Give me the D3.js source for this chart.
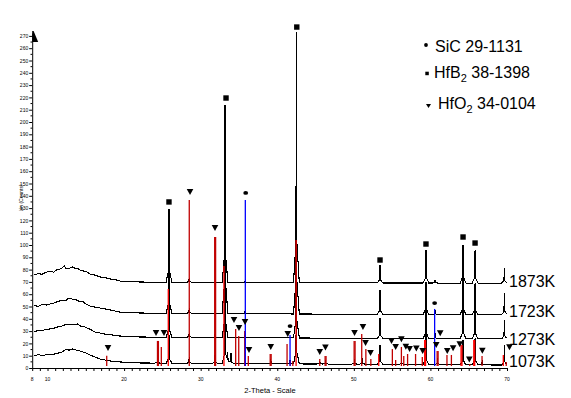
<!DOCTYPE html>
<html><head><meta charset="utf-8">
<script src="https://cdn.jsdelivr.net/npm/d3@7"></script>
<style>body{margin:0;background:#fff}svg{display:block;font-family:Arial,"Liberation Sans",sans-serif}</style>
</head><body><svg id="c" width="571" height="398"></svg>
<script>
// ---------- DATA (2-Theta in degrees, intensity in Lin counts) ----------
const xTickValues = [8,10,20,30,40,50,60,70];
const xMinorTicks = [8,9,10,11,12,13,14,15,16,17,18,19,20,21,22,23,24,25,26,27,28,29,30,31,32,33,34,35,36,37,38,39,40,41,42,43,44,45,46,47,48,49,50,51,52,53,54,55,56,57,58,59,60,61,62,63,64,65,66,67,68,69,70];
const yTickValues = [0,10,20,30,40,50,60,70,80,90,100,110,120,130,140,150,160,170,180,190,200,210,220,230,240,250,260,270];
const traceNames = ["1873K","1723K","1273K","1073K"];

const baseline1873 = [[8.24,75.6],[8.8,76.8],[9.28,76.2],[9.9,78.0],[10.32,78.9],[10.8,77.8],[11.11,79.5],[11.5,80.2],[11.89,81.3],[12.2,83.0],[12.41,80.5],[12.94,81.3],[13.3,82.2],[13.59,81.0],[14.0,80.6],[14.24,79.7],[14.89,78.5],[15.2,77.9],[15.55,76.4],[16.20,75.5],[16.85,74.0],[17.50,73.5],[18.16,72.4],[18.8,71.9],[19.46,70.7],[22.08,69.9],[29.91,69.5],[42.97,69.3],[56.03,69.1],[69.95,69.0]];
const baseline1723 = [[8.24,50.7],[8.8,50.2],[9.28,51.5],[9.9,51.2],[10.32,52.0],[10.8,52.8],[11.11,53.5],[11.5,54.2],[11.89,55.3],[12.2,54.6],[12.41,55.0],[12.8,57.0],[13.20,56.1],[13.72,55.5],[14.24,53.7],[14.6,54.2],[14.89,52.5],[15.55,50.4],[16.20,49.5],[16.85,48.8],[18.16,47.2],[19.46,45.5],[22.08,44.7],[29.91,44.3],[42.97,43.9],[56.03,43.5],[69.95,43.1]];
const baseline1273 = [[8.24,29.5],[8.8,30.6],[9.28,30.5],[9.9,31.4],[10.32,31.7],[10.8,32.2],[11.11,33.0],[11.5,33.6],[11.89,34.1],[12.3,35.2],[12.67,35.0],[13.1,35.6],[13.59,35.0],[13.9,35.9],[14.24,34.3],[14.89,33.3],[15.55,31.5],[16.20,29.3],[17.50,27.6],[19.46,26.0],[22.08,25.2],[29.91,24.8],[42.97,24.4],[56.03,23.9],[69.95,23.6]];
const baseline1073 = [[8.24,9.8],[8.8,10.9],[9.28,10.2],[9.9,10.8],[10.32,10.6],[10.8,11.2],[11.11,11.8],[11.5,12.3],[11.89,13.0],[12.3,14.8],[12.94,14.6],[13.2,15.5],[13.59,14.8],[14.24,13.8],[14.89,12.5],[15.55,10.6],[16.20,9.0],[16.85,7.3],[18.16,5.7],[19.46,4.9],[22.08,4.1],[29.91,3.6],[42.97,3.3],[56.03,2.9],[69.95,2.4]];

// peak tops: [2-Theta, counts at peak top]
const peaks1873 = [[25.86,129.3],[28.51,73.5],[33.18,213.8],[35.83,72.0],[42.50,273.2],[53.42,83.7],[59.42,95.9],[60.59,71.5],[64.26,100.0],[65.83,95.9],[69.66,81.3]];
const peaks1723 = [[25.86,95.9],[28.51,48.8],[33.18,203.3],[35.83,47.5],[42.50,211.4],[53.42,63.4],[59.42,69.9],[60.59,47.5],[64.26,74.0],[65.83,69.1],[69.66,61.0]];
const peaks1273 = [[25.86,63.4],[28.51,28.5],[31.87,27.6],[33.18,110.6],[35.83,28.5],[42.50,116.3],[53.42,40.7],[59.42,51.2],[60.59,28.5],[64.26,55.3],[65.83,51.2],[69.66,39.0]];
const peaks1073 = [[24.36,6.5],[25.86,26.8],[28.51,8.9],[31.87,10.6],[33.18,55.3],[33.53,12.2],[33.96,12.2],[39.15,7.3],[41.67,6.5],[42.50,63.4],[45.55,5.7],[46.29,6.5],[50.08,7.3],[51.12,8.1],[53.42,18.7],[56.21,6.5],[59.42,26.8],[60.92,8.1],[64.26,22.8],[65.83,24.4],[66.78,6.5],[69.66,18.7]];

// reference stick patterns: [2-Theta, relative height in counts]
const sticksHfO2 = [[17.73,10.0],[24.36,22.0],[24.48,22.0],[24.86,17.1],[28.51,136.6],[31.83,106.5],[31.95,106.5],[34.57,31.7],[34.97,26.0],[35.75,30.1],[36.22,9.8],[39.08,11.4],[39.20,11.4],[41.28,19.5],[41.70,5.7],[42.03,5.7],[45.55,7.3],[46.25,9.8],[46.37,9.8],[50.04,22.0],[50.16,22.0],[51.03,27.6],[51.57,15.4],[52.22,7.3],[55.03,15.4],[55.46,6.5],[56.21,17.1],[56.52,9.8],[57.02,11.4],[58.06,11.4],[58.94,8.9],[60.88,13.8],[61.00,13.8],[62.16,10.6],[62.74,10.6],[65.13,3.3],[66.74,9.8],[69.90,4.9]];
const sticksHfB2 = [[25.77,64.2],[33.04,82.9],[42.46,104.1],[53.25,11.4],[59.25,22.8],[59.37,22.8],[64.00,18.7],[64.12,18.7],[65.66,22.8],[65.78,22.8],[69.52,10.6]];
const sticksSiC = [[35.83,136.6],[41.67,26.8],[60.55,48.0]];
const stickBase = 1.6;

// phase markers: [2-Theta, counts]
const markHfB2 = [[25.86,135.0],[33.31,219.5],[42.55,277.2],[53.42,87.8],[59.42,100.8],[64.26,106.5],[65.83,101.6]];
const markSiC = [[35.88,142.3],[41.67,34.1],[60.55,52.8]];
const markHfO2 = [[17.90,16.3],[24.17,28.5],[25.21,28.5],[28.61,143.1],[31.87,113.8],[34.35,39.0],[35.00,32.5],[35.79,37.4],[36.31,14.6],[39.15,17.1],[41.37,27.6],[45.55,13.0],[46.29,16.7],[50.09,28.5],[51.19,33.3],[51.53,20.3],[52.18,12.2],[54.92,22.0],[55.46,17.1],[56.21,23.3],[56.79,17.3],[57.28,15.4],[58.16,15.9],[58.99,13.8],[60.76,18.7],[61.28,28.2],[62.20,13.8],[62.96,16.0],[63.83,19.3],[65.08,6.9],[66.78,14.0],[70.32,16.8]];

const legendItems = [
  {main:"SiC 29-1131", pre:"", sub:"", post:""},
  {main:"", pre:"HfB", sub:"2", post:" 38-1398"},
  {main:"", pre:"HfO", sub:"2", post:" 34-0104"}
];

// ---------- DRAW ----------
const svg = d3.select("#c");
const x = d3.scaleLinear().domain([8,70]).range([32.2,507]);
const y = d3.scaleLinear().domain([0,272.36]).range([368,33]);

const PDX = [-0.38,-0.06,0,0.06,0.38];
const PF  = [0,0.16,1,0.16,0];
const prof = d3.scaleLinear().domain(PDX).range(PF).clamp(true);

function buildTrace(base, peaks){
  const bx = d3.scaleLinear().domain(base.map(d=>d[0])).range(base.map(d=>d[1])).clamp(true);
  const xs = new Set(base.map(d=>d[0]));
  peaks.forEach(p => PDX.forEach(dx => xs.add(+(p[0]+dx).toFixed(4))));
  const lo = base[0][0], hi = base[base.length-1][0];
  return [...xs].filter(v=>v>=lo && v<=hi).sort((a,b)=>a-b)
    .map(t => [t, bx(t) + d3.sum(peaks, p => (p[1]-bx(p[0])) * prof(t-p[0]))]);
}

const traces = [
  {name:traceNames[0], base:baseline1873, peaks:peaks1873},
  {name:traceNames[1], base:baseline1723, peaks:peaks1723},
  {name:traceNames[2], base:baseline1273, peaks:peaks1273},
  {name:traceNames[3], base:baseline1073, peaks:peaks1073}
];
const line = d3.line().x(d=>x(d[0])).y(d=>y(d[1]));

svg.append("g").selectAll("path").data(traces).join("path")
  .attr("d", t => line(buildTrace(t.base, t.peaks)))
  .attr("fill","none").attr("stroke","#000").attr("stroke-width",1.1)
  .attr("shape-rendering","crispEdges");

// axes
const xAxis = svg.append("g").attr("transform","translate(0,368)")
  .call(d3.axisBottom(x).tickValues(xMinorTicks).tickSize(3).tickSizeOuter(0).tickFormat(""));
xAxis.select(".domain").attr("stroke","#000");
xAxis.selectAll(".tick line").attr("stroke","#000");
svg.append("g").selectAll("text").data(xTickValues).join("text")
  .attr("x", d=>x(d)).attr("y",381).attr("text-anchor","middle")
  .attr("font-size",5).attr("fill","#000").text(d=>d);

const yAxis = svg.append("g").attr("transform","translate(32.2,0)")
  .call(d3.axisLeft(y).tickValues(yTickValues).tickSize(3).tickSizeOuter(0).tickPadding(1).tickFormat(d3.format("d")));
yAxis.selectAll("text").attr("font-size",5).attr("font-family","Arial, 'Liberation Sans', sans-serif");
yAxis.select(".domain").attr("stroke","#000");
svg.append("g").selectAll("line").data(yTickValues.slice(0,-1)).join("line")
  .attr("x1",30.5).attr("x2",32.2).attr("y1",d=>y(d+5)).attr("y2",d=>y(d+5)).attr("stroke","#000");
svg.append("path").attr("d","M32.2,31 L33.6,31 L38.2,42 L32.2,42 Z").attr("fill","#000");

svg.append("text").attr("transform","translate(23,198) rotate(-90)")
  .attr("text-anchor","middle").attr("font-size",5).text("Lin (Counts)");
svg.append("text").attr("x",270).attr("y",393).attr("text-anchor","middle")
  .attr("font-size",7.5).text("2-Theta - Scale");

// reference sticks
function sticks(data,color,w){
  svg.append("g").selectAll("line").data(data).join("line")
    .attr("x1",d=>x(d[0])).attr("x2",d=>x(d[0]))
    .attr("y1",y(stickBase)).attr("y2",d=>y(d[1]))
    .attr("stroke",color).attr("stroke-width",w);
}
sticks(sticksHfO2,"#c00000",1.3);
sticks(sticksHfB2,"#ff0000",1.3);
sticks(sticksSiC,"#0000ff",1.3);

// markers
svg.append("g").selectAll("rect").data(markHfB2).join("rect")
  .attr("x",d=>x(d[0])-2.7).attr("y",d=>y(d[1])-2.7).attr("width",5.4).attr("height",5.4).attr("fill","#000");
svg.append("g").selectAll("ellipse").data(markSiC).join("ellipse")
  .attr("cx",d=>x(d[0])).attr("cy",d=>y(d[1])).attr("rx",2.4).attr("ry",1.9).attr("fill","#000");
svg.append("g").selectAll("path").data(markHfO2).join("path")
  .attr("d",d=>{const cx=x(d[0]), cy=y(d[1]); return `M${cx-3.3},${cy-3} L${cx+3.3},${cy-3} L${cx},${cy+3} Z`;})
  .attr("fill","#000");

// right labels
const labelDy = [4,2,6,2];
svg.append("g").selectAll("text").data(traces).join("text")
  .attr("x",509).attr("y",(t,i)=>y(t.base[t.base.length-1][1])+labelDy[i])
  .attr("font-size",16).attr("fill","#000").text(t=>t.name);

// legend
const leg = svg.append("g");
leg.append("circle").attr("cx",426).attr("cy",45).attr("r",1.9).attr("fill","#000");
leg.append("rect").attr("x",425.3).attr("y",71.7).attr("width",3.5).attr("height",3.5).attr("fill","#000");
leg.append("path").attr("d","M426,104 L431,104 L428.5,108 Z").attr("fill","#000");
const rowsY = [51.7,78.3,108.9], rowsX = [435,434,438];
legendItems.forEach((it,i)=>{
  const t = leg.append("text").attr("x",rowsX[i]).attr("y",rowsY[i]).attr("font-size",16).attr("fill","#000");
  if(it.main){ t.text(it.main); return; }
  t.append("tspan").text(it.pre);
  t.append("tspan").attr("dy",4).attr("font-size",11).text(it.sub);
  t.append("tspan").attr("dy",-4).text(it.post);
});
</script></body></html>
